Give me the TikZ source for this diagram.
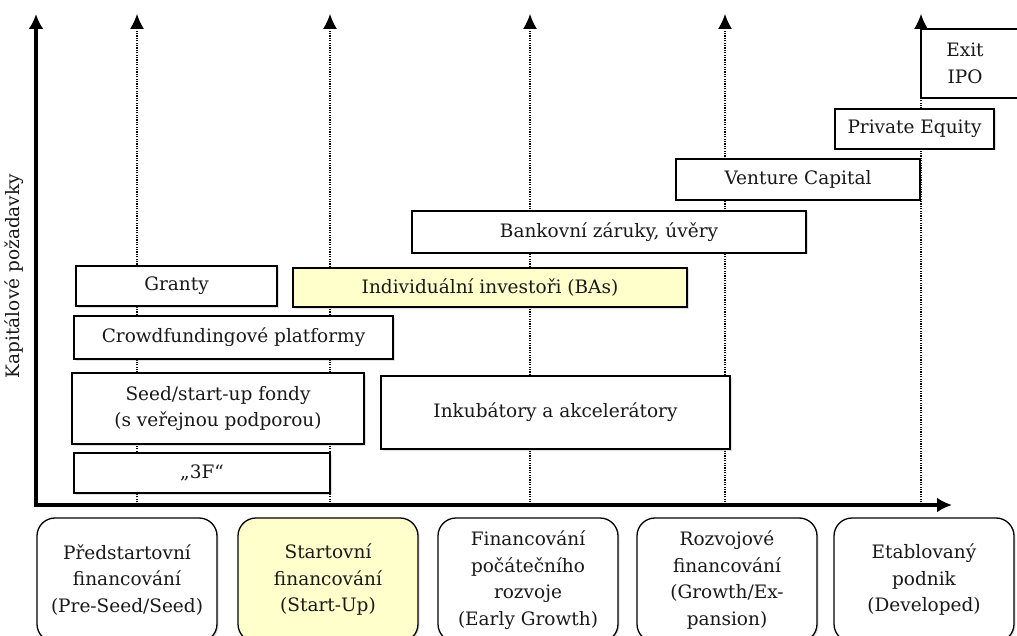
\documentclass[tikz,border=0pt]{standalone}
\usepackage{fontspec}
\setmainfont{DejaVu Serif}
\usetikzlibrary{arrows.meta}
\usetikzlibrary{shadows}
\definecolor{paleyellow}{RGB}{255,255,204}

\begin{document}
\begin{tikzpicture}[x=1pt, y=-1pt,
    every node/.style={font=\fontsize{18.5}{26.5}\selectfont, text=black!90},
    srcbox/.style={draw, line width=1.3pt, fill=white, inner sep=0pt, align=center,
        drop shadow={shadow xshift=1.5pt, shadow yshift=-1.5pt, opacity=0.25}},
    stagebox/.style={srcbox, rounded corners=18pt, minimum width=180pt, minimum height=124pt},
    guide/.style={line width=1.3pt, dash pattern=on 1.2pt off 1.2pt, -{Latex[length=15pt,width=14pt]}},
    axis/.style={line width=3.5pt, -{Latex[length=15pt,width=15pt]}}]
    \useasboundingbox (0,0) rectangle (1017,636);

    % vertical guides
    \foreach \gx in {137, 330, 530, 725, 921}
        \draw[guide] (\gx, 507) -- (\gx, 14);

    % axes
    \draw[axis] (36, 507) -- (36, 14);
    \draw[axis] (34, 505) -- (952, 505);
    \node[rotate=90] (cap) at (14, 276) {Kapitálové požadavky};

    % sources of finance
    \draw[line width=1.3pt, fill=white] (1030, 29) -- (921, 29) -- (921, 98) -- (1030, 98);
    \node[align=center] (exit) at (965, 63.5) {Exit\\IPO};
    \node[srcbox, minimum width=159pt, minimum height=40pt] (pe) at (914.5, 129) {Private Equity};
    \node[srcbox, minimum width=244pt, minimum height=41pt] (vc) at (798, 179.5) {Venture Capital};
    \node[srcbox, minimum width=394pt, minimum height=42pt] (bank) at (609, 232) {Bankovní záruky, úvěry};
    \node[srcbox, minimum width=201pt, minimum height=40pt] (grant) at (176.5, 286) {Granty};
    \node[srcbox, fill=paleyellow, minimum width=394pt, minimum height=39pt] (ba) at (490, 287.5) {Individuální investoři (BAs)};
    \node[srcbox, minimum width=319pt, minimum height=43pt] (crowd) at (233.5, 337.5) {Crowdfundingové platformy};
    \node[srcbox, minimum width=292pt, minimum height=71pt] (seed) at (218, 408.5) {Seed/start-up fondy\\(s veřejnou podporou)};
    \node[srcbox, minimum width=349pt, minimum height=73pt] (inc) at (555.5, 412.5) {Inkubátory a akcelerátory};
    \node[srcbox, minimum width=256pt, minimum height=40pt] (fff) at (202, 473) {„3F“};

    % stages
    \node[stagebox] (pre) at (127, 580) {Předstartovní\\financování\\(Pre-Seed/Seed)};
    \node[stagebox, fill=paleyellow] (start) at (328, 580) {Startovní\\financování\\(Start-Up)};
    \node[stagebox] (early) at (528, 580) {Financování\\počátečního\\rozvoje\\(Early Growth)};
    \node[stagebox] (growth) at (727, 580) {Rozvojové\\financování\\(Growth/Ex-\\pansion)};
    \node[stagebox] (dev) at (924, 580) {Etablovaný\\podnik\\(Developed)};
\end{tikzpicture}
\end{document}
